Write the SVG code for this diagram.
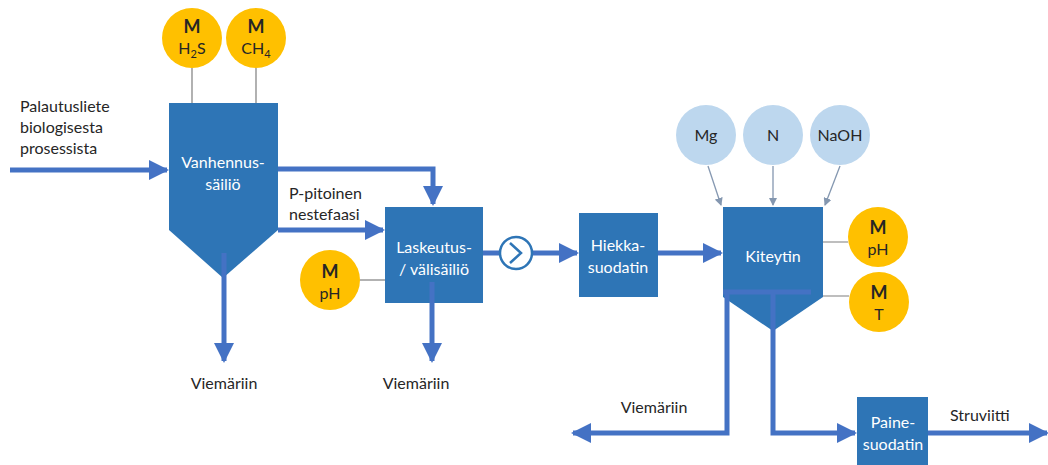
<svg xmlns="http://www.w3.org/2000/svg" width="1048" height="465" viewBox="0 0 1048 465">
<style>
.box{fill:#2E75B6}
.wt{fill:#FFFFFF;font-family:Lato,"Open Sans",sans-serif;font-size:16px;text-anchor:middle}
.bt{fill:#262626;font-family:Lato,"Open Sans",sans-serif;font-size:16px}
.ct{fill:#262626;font-family:Lato,"Open Sans",sans-serif;font-size:16px;text-anchor:middle}
.mb{font-weight:bold;font-size:18px}
.ylw{fill:#FFC000}
.lb{fill:#BDD7EE}
.pipe{fill:none;stroke:#4472C4;stroke-width:5}
.thin{fill:none;stroke:#7F7F7F;stroke-width:1.2}
.feed{fill:none;stroke:#8497B0;stroke-width:1.3}
</style>
<defs>
<marker id="ah" viewBox="0 0 20 20" refX="18" refY="10" markerWidth="20" markerHeight="20" markerUnits="userSpaceOnUse" orient="auto">
<path d="M0,0 L20,10 L0,20 z" fill="#4472C4"/>
</marker>
<marker id="sa" viewBox="0 0 8 8" refX="7" refY="4" markerWidth="8" markerHeight="8" markerUnits="userSpaceOnUse" orient="auto">
<path d="M0,0 L8,4 L0,8 z" fill="#8497B0"/>
</marker>
</defs>

<g id="vanhennus">
<path class="box" d="M169,103 L278,103 L278,230 L223,278 L169,230 z"/>
<text class="wt" x="223" y="168">Vanhennus-</text>
<text class="wt" x="223" y="190">säiliö</text>
</g>

<g id="m-h2s">
<circle class="ylw" cx="192" cy="38" r="30"/>
<text class="ct mb" x="192" y="33">M</text>
<text class="ct" x="192" y="54">H<tspan font-size="11" dy="4">2</tspan><tspan dy="-4">S</tspan></text>
</g>

<g id="m-ch4">
<circle class="ylw" cx="256" cy="38" r="30"/>
<text class="ct mb" x="256" y="33">M</text>
<text class="ct" x="256" y="54">CH<tspan font-size="11" dy="4">4</tspan></text>
</g>

<g id="laskeutus">
<rect class="box" x="385" y="207" width="98" height="96"/>
<text class="wt" x="434" y="253">Laskeutus-</text>
<text class="wt" x="434" y="275">/ välisäiliö</text>
</g>

<g id="m-ph1">
<circle class="ylw" cx="330" cy="280" r="30"/>
<text class="ct mb" x="330" y="278">M</text>
<text class="ct" x="330" y="299">pH</text>
</g>

<g id="hiekka">
<rect class="box" x="579" y="213" width="79" height="84"/>
<text class="wt" x="618" y="251">Hiekka-</text>
<text class="wt" x="618" y="273">suodatin</text>
</g>

<g id="kiteytin">
<path class="box" d="M723,207 L823,207 L823,297 L773,331 L723,297 z"/>
<text class="wt" x="773" y="262">Kiteytin</text>
</g>

<g id="mg">
<circle class="lb" cx="706" cy="135" r="30"/>
<text class="ct" x="706" y="141">Mg</text>
</g>
<g id="n">
<circle class="lb" cx="773" cy="135" r="30"/>
<text class="ct" x="773" y="141">N</text>
</g>
<g id="naoh">
<circle class="lb" cx="840" cy="135" r="30"/>
<text class="ct" x="840" y="141">NaOH</text>
</g>

<g id="m-ph2">
<circle class="ylw" cx="878" cy="237" r="30"/>
<text class="ct mb" x="878" y="234">M</text>
<text class="ct" x="878" y="255">pH</text>
</g>

<g id="m-t">
<circle class="ylw" cx="879" cy="302" r="30"/>
<text class="ct mb" x="879" y="299">M</text>
<text class="ct" x="879" y="320">T</text>
</g>

<g id="paine">
<rect class="box" x="857" y="397" width="71" height="68"/>
<text class="wt" x="893" y="428">Paine-</text>
<text class="wt" x="893" y="450">suodatin</text>
</g>

<g id="connectors">
<path class="pipe" d="M10,170 L167,170" marker-end="url(#ah)"/>
<path class="pipe" d="M278,169 L433,169 L433,204" marker-end="url(#ah)"/>
<path class="pipe" d="M278,230 L383,230" marker-end="url(#ah)"/>
<path class="pipe" d="M224,253 L224,361" marker-end="url(#ah)"/>
<path class="pipe" d="M432,282 L432,361" marker-end="url(#ah)"/>
<path class="pipe" d="M483,253 L577,253" marker-end="url(#ah)"/>
<path class="pipe" d="M658,253 L721,253" marker-end="url(#ah)"/>
<path class="pipe" d="M723,292 L811,292"/>
<path class="pipe" d="M727,292 L727,433 L573,433" marker-end="url(#ah)"/>
<path class="pipe" d="M773,292 L773,433 L855,433" marker-end="url(#ah)"/>
<path class="pipe" d="M928,433 L1047,433" marker-end="url(#ah)"/>
<path class="thin" d="M192,68 L192,103 M256,68 L256,103"/>
<path class="thin" d="M360,280 L385,280"/>
<path class="thin" d="M823,242 L848,242 M823,296 L849,296"/>
<path class="feed" d="M708,166 L721,205" marker-end="url(#sa)"/>
<path class="feed" d="M773,166 L773,205" marker-end="url(#sa)"/>
<path class="feed" d="M840,166 L825,205" marker-end="url(#sa)"/>
</g>

<g id="pump">
<circle cx="516" cy="253" r="16" fill="#FFFFFF" stroke="#2E75B6" stroke-width="2.5"/>
<path d="M510,243 L521,253 L510,263" fill="none" stroke="#2E75B6" stroke-width="2.5"/>
</g>

<g id="labels">
<text class="bt" x="20" y="112">Palautusliete</text>
<text class="bt" x="20" y="133">biologisesta</text>
<text class="bt" x="20" y="154">prosessista</text>
<text class="bt" x="289" y="199">P-pitoinen</text>
<text class="bt" x="289" y="220">nestefaasi</text>
<text class="ct" x="224" y="389">Viemäriin</text>
<text class="ct" x="416" y="389">Viemäriin</text>
<text class="ct" x="654" y="413">Viemäriin</text>
<text class="bt" x="950" y="421">Struviitti</text>
</g>
</svg>
